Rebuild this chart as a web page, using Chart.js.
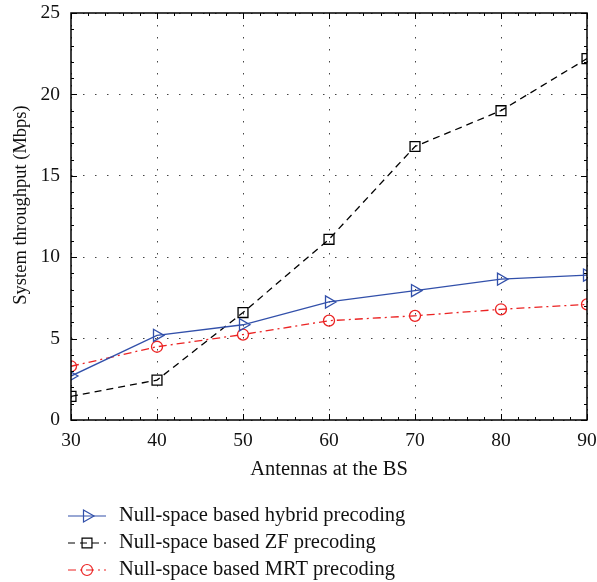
<!DOCTYPE html>
<html>
<head>
<meta charset="utf-8">
<script src="https://cdn.jsdelivr.net/npm/chart.js@4/dist/chart.umd.min.js"></script>
<style>
  html, body { margin: 0; padding: 0; background: #fff; }
  #wrap { width: 597px; height: 582px; position: relative; }
</style>
</head>
<body>
<div id="wrap"><canvas id="myChart"></canvas></div>
<script>
// data
var antennas = [30, 40, 50, 60, 70, 80, 90];
var hybridValues = [2.7, 5.2, 5.85, 7.25, 7.95, 8.65, 8.9];
var zfValues = [1.45, 2.45, 6.6, 11.1, 16.8, 19.0, 22.2];
var mrtValues = [3.3, 4.5, 5.25, 6.1, 6.4, 6.8, 7.1];
var xTicks = [30, 40, 50, 60, 70, 80, 90];
var yTicks = [0, 5, 10, 15, 20, 25];
var seriesNames = ['Null-space based hybrid precoding', 'Null-space based ZF precoding', 'Null-space based MRT precoding'];

var serif = "'Liberation Serif', 'DejaVu Serif', serif";

function toPoints(xs, ys) {
    var pts = [];
    for (var i = 0; i < xs.length; i++) pts.push({ x: xs[i], y: ys[i] });
    return pts;
}

// box round the plot with inward ticks, MATLAB style
var frameTicks = {
    id: 'frameTicks',
    afterDatasetsDraw: function (chart) {
        var ctx = chart.ctx, a = chart.chartArea;
        var xs = chart.scales.x, ys = chart.scales.y;
        ctx.save();
        ctx.strokeStyle = '#000';
        ctx.lineWidth = 1;
        ctx.beginPath();
        for (var v = 30; v <= 90; v += 2) {
            var px = Math.round(xs.getPixelForValue(v)) + 0.5;
            var len = (v % 10 === 0) ? 6 : 3;
            ctx.moveTo(px, a.bottom); ctx.lineTo(px, a.bottom - len);
            ctx.moveTo(px, a.top); ctx.lineTo(px, a.top + len);
        }
        for (var w = 0; w <= 25; w += 1) {
            var py = Math.round(ys.getPixelForValue(w)) + 0.5;
            var l2 = (w % 5 === 0) ? 6 : 3;
            ctx.moveTo(a.left, py); ctx.lineTo(a.left + l2, py);
            ctx.moveTo(a.right, py); ctx.lineTo(a.right - l2, py);
        }
        ctx.stroke();
        ctx.lineWidth = 1.5;
        ctx.strokeRect(a.left, a.top, a.right - a.left, a.bottom - a.top);

        // y axis title, drawn by hand so it sits where the original has it
        ctx.fillStyle = '#111';
        ctx.font = '18.5px ' + serif;
        ctx.textAlign = 'center';
        ctx.textBaseline = 'middle';
        ctx.translate(21, 205);
        ctx.rotate(-Math.PI / 2);
        ctx.fillText('System throughput (Mbps)', 0, 0);
        ctx.restore();
    }
};

// legend below the axes: line sample with marker, then label
var lineLegend = {
    id: 'lineLegend',
    afterDraw: function (chart) {
        var ctx = chart.ctx;
        var rows = [516, 543, 570];
        ctx.save();
        for (var i = 0; i < chart.data.datasets.length; i++) {
            var ds = chart.data.datasets[i];
            var y = rows[i];
            ctx.strokeStyle = ds.borderColor;
            ctx.lineWidth = 1.2;
            ctx.setLineDash(ds.borderDash || []);
            ctx.beginPath();
            ctx.moveTo(68, y); ctx.lineTo(106, y);
            ctx.stroke();
            ctx.setLineDash([]);
            ctx.fillStyle = 'rgba(255,255,255,0)';
            Chart.helpers.drawPoint(ctx, {
                pointStyle: ds.pointStyle,
                radius: ds.pointRadius,
                rotation: ds.pointRotation || 0,
                borderWidth: 1.2
            }, 87, y);
            ctx.fillStyle = '#111';
            ctx.font = '20.5px ' + serif;
            ctx.textAlign = 'left';
            ctx.textBaseline = 'middle';
            ctx.fillText(seriesNames[i], 119, y);
        }
        ctx.restore();
    }
};

var ctx1 = document.getElementById('myChart');
var myChart = new Chart(ctx1, {
    type: 'line',
    data: {
        datasets: [
            {
                label: seriesNames[0],
                data: toPoints(antennas, hybridValues),
                borderColor: 'rgb(50, 80, 170)',
                backgroundColor: 'rgba(0,0,0,0)',
                borderWidth: 1.3,
                pointStyle: 'triangle',
                pointRotation: 90,
                pointRadius: 7,
                pointBorderWidth: 1.3
            },
            {
                label: seriesNames[1],
                data: toPoints(antennas, zfValues),
                borderColor: '#000',
                backgroundColor: 'rgba(0,0,0,0)',
                borderWidth: 1.3,
                borderDash: [7, 5],
                pointStyle: 'rect',
                pointRadius: 7,
                pointBorderWidth: 1.3
            },
            {
                label: seriesNames[2],
                data: toPoints(antennas, mrtValues),
                borderColor: 'rgb(235, 35, 35)',
                backgroundColor: 'rgba(0,0,0,0)',
                borderWidth: 1.3,
                borderDash: [8, 4, 2, 4],
                pointStyle: 'circle',
                pointRadius: 5.5,
                pointBorderWidth: 1.3
            }
        ]
    },
    options: {
        responsive: true,
        maintainAspectRatio: false,
        animation: false,
        layout: { padding: { left: 0, top: 13, right: 10, bottom: 94 } },
        plugins: {
            legend: { display: false },
            tooltip: { enabled: false }
        },
        scales: {
            x: {
                type: 'linear',
                min: 30,
                max: 90,
                afterBuildTicks: function (s) { s.ticks = xTicks.map(function (v) { return { value: v }; }); },
                afterFit: function (s) { s.height = 68; s.paddingLeft = 0; s.paddingRight = 0; },
                grid: { color: '#444', lineWidth: 1, drawTicks: false },
                border: { display: false, dash: [1.5, 10.5] },
                ticks: { color: '#111', padding: 9, font: { family: serif, size: 19.5 } },
                title: {
                    display: true,
                    text: 'Antennas at the BS',
                    color: '#111',
                    padding: { top: 4, bottom: 6 },
                    font: { family: serif, size: 20.5 }
                }
            },
            y: {
                min: 0,
                max: 25,
                afterBuildTicks: function (s) { s.ticks = yTicks.map(function (v) { return { value: v }; }); },
                afterFit: function (s) { s.width = 71; s.paddingTop = 0; s.paddingBottom = 0; },
                grid: { color: '#444', lineWidth: 1, drawTicks: false },
                border: { display: false, dash: [1.5, 10.5] },
                ticks: { color: '#111', padding: 11, font: { family: serif, size: 19.5 } }
            }
        }
    },
    plugins: [frameTicks, lineLegend]
});
</script>
</body>
</html>
